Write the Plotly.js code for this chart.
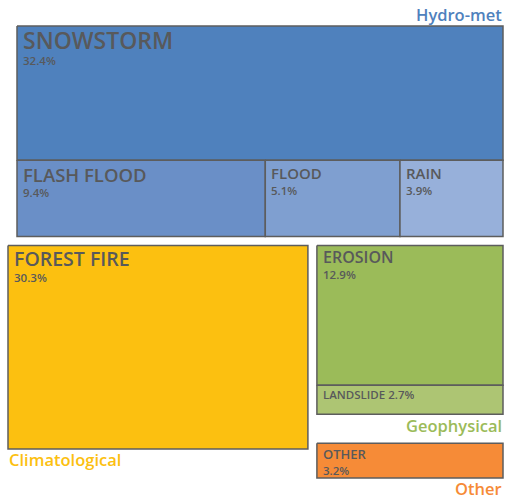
<!DOCTYPE html>
<html>
<head>
<meta charset="utf-8">
<script src="https://cdn.plot.ly/plotly-3.0.1.min.js"></script>
<style>html,body{margin:0;padding:0;background:#fff;}#chart{width:505px;height:499px;}</style>
</head>
<body>
<div id="chart"></div>
<script>
// ---- data ----
var groups = ['Hydro-met', 'Climatological', 'Geophysical', 'Other'];
var groupColors = ['#4f81bd', '#fcc010', '#9bbb59', '#f68b37'];
var items = ['SNOWSTORM', 'FLASH FLOOD', 'FLOOD', 'RAIN', 'FOREST FIRE', 'EROSION', 'LANDSLIDE', 'OTHER'];
var itemGroups = ['Hydro-met', 'Hydro-met', 'Hydro-met', 'Hydro-met', 'Climatological', 'Geophysical', 'Geophysical', 'Other'];
var values = [32.4, 9.4, 5.1, 3.9, 30.3, 12.9, 2.7, 3.2];
var itemColors = ['#4f81bd', '#6a8fc7', '#7f9fd0', '#97b0da', '#fcc010', '#9bbb59', '#adc573', '#f68b37'];

// ---- style / layout parameters ----
var W = 486, H = 414;            // drawable treemap area (without label gutters)
var offsets = {                   // gutter offsets for each group (label space)
  'Hydro-met': [17, 26],
  'Climatological': [8, 35],
  'Geophysical': [17, 35],
  'Other': [17, 64]
};
var nameSize = [23, 18.5, 15, 15, 19.5, 16, 11.5, 13];
var capOffset = [6.5, 8, 8, 8, 7, 6, 6, 6.5];
var pctSize = 11.5;
var textColor = '#58595b';
var FONT = 'Open Sans, sans-serif';
var WEIGHT = 600;
var CAP = 0.714;      // cap-height ratio
var TOPOFF = 0.42;    // distance annotation top -> cap top, per font size

function sumOf(g) {
  var s = 0;
  for (var i = 0; i < values.length; i++) if (itemGroups[i] === g) s += values[i];
  return s;
}
var gsum = groups.map(sumOf);
var total = gsum.reduce(function (a, b) { return a + b; }, 0);

// group rectangles in abstract space [x0,y0,x1,y1]
var gRect = {};
var hTop = H * gsum[0] / total;
gRect['Hydro-met'] = [0, 0, W, hTop];
var rest = gsum[1] + gsum[2] + gsum[3];
var wClim = W * gsum[1] / rest;
gRect['Climatological'] = [0, hTop, wClim, H];
var hGeo = (H - hTop) * gsum[2] / (gsum[2] + gsum[3]);
gRect['Geophysical'] = [wClim, hTop, W, hTop + hGeo];
gRect['Other'] = [wClim, hTop + hGeo, W, H];

// item rectangles
var rects = [];
(function () {
  var r = gRect['Hydro-met'];
  var h0 = (r[3] - r[1]) * values[0] / gsum[0];
  rects[0] = [r[0], r[1], r[2], r[1] + h0];
  var rowSum = values[1] + values[2] + values[3];
  var x = r[0];
  for (var i = 1; i <= 3; i++) {
    var w = (r[2] - r[0]) * values[i] / rowSum;
    rects[i] = [x, r[1] + h0, x + w, r[3]];
    x += w;
  }
  rects[4] = gRect['Climatological'].slice();
  var g = gRect['Geophysical'];
  var he = (g[3] - g[1]) * values[5] / gsum[2];
  rects[5] = [g[0], g[1], g[2], g[1] + he];
  rects[6] = [g[0], g[1] + he, g[2], g[3]];
  rects[7] = gRect['Other'].slice();
})();

function shift(r, g) {
  var o = offsets[g];
  return [r[0] + o[0], r[1] + o[1], r[2] + o[0], r[3] + o[1]];
}

var traces = [];
var annotations = [];
for (var i = 0; i < items.length; i++) {
  var r = shift(rects[i], itemGroups[i]);
  traces.push({
    type: 'scatter', mode: 'lines', fill: 'toself',
    x: [r[0], r[2], r[2], r[0], r[0]],
    y: [r[1], r[1], r[3], r[3], r[1]],
    fillcolor: itemColors[i],
    line: { color: '#5d5d5d', width: 1.5 },
    hoverinfo: 'text', text: items[i] + ' ' + values[i] + '%',
    showlegend: false
  });
  var pct = values[i].toFixed(1) + '%';
  var capTop = r[1] + capOffset[i];
  var label = (items[i] === 'LANDSLIDE') ? items[i] + ' ' + pct : items[i];
  annotations.push({
    x: r[0] + 5, y: capTop - TOPOFF * nameSize[i], xref: 'x', yref: 'y', xanchor: 'left', yanchor: 'top',
    text: label, showarrow: false, borderpad: 0, valign: 'top',
    height: Math.ceil((TOPOFF + CAP + 0.06) * nameSize[i]),
    font: { family: FONT, size: nameSize[i], color: textColor, weight: WEIGHT }
  });
  if (items[i] !== 'LANDSLIDE') {
    var pctCapTop = capTop + CAP * nameSize[i] + 7.5;
    annotations.push({
      x: r[0] + 5, y: pctCapTop - TOPOFF * pctSize, xref: 'x', yref: 'y', xanchor: 'left', yanchor: 'top',
      text: pct, showarrow: false, borderpad: 0,
      font: { family: FONT, size: pctSize, color: textColor, weight: WEIGHT }
    });
  }
}

// group labels
var gSize = 16.5;
for (var k = 0; k < groups.length; k++) {
  var g = groups[k];
  var gr = shift(gRect[g], g);
  var ann = { xref: 'x', yref: 'y', showarrow: false, text: g, borderpad: 0,
    font: { family: FONT, size: gSize, color: groupColors[k], weight: WEIGHT } };
  if (g === 'Hydro-met') {
    ann.x = gr[2]; ann.xanchor = 'right';
    ann.y = gr[1] - 5.5 - CAP * gSize - TOPOFF * gSize; ann.yanchor = 'top';
  } else if (g === 'Climatological') {
    ann.x = gr[0]; ann.xanchor = 'left';
    ann.y = gr[3] + 4.5 - TOPOFF * gSize; ann.yanchor = 'top';
  } else {
    ann.x = gr[2]; ann.xanchor = 'right';
    ann.y = gr[3] + (g === 'Other' ? 4.5 : 5.5) - TOPOFF * gSize; ann.yanchor = 'top';
  }
  annotations.push(ann);
}

var layout = {
  width: 505, height: 499,
  margin: { l: 0, r: 0, t: 0, b: 0 },
  paper_bgcolor: '#fff', plot_bgcolor: '#fff',
  xaxis: { range: [0, 505], visible: false, fixedrange: true },
  yaxis: { range: [499, 0], visible: false, fixedrange: true },
  annotations: annotations,
  showlegend: false
};
Plotly.newPlot('chart', traces, layout, { displayModeBar: false, staticPlot: true });
</script>
</body>
</html>
